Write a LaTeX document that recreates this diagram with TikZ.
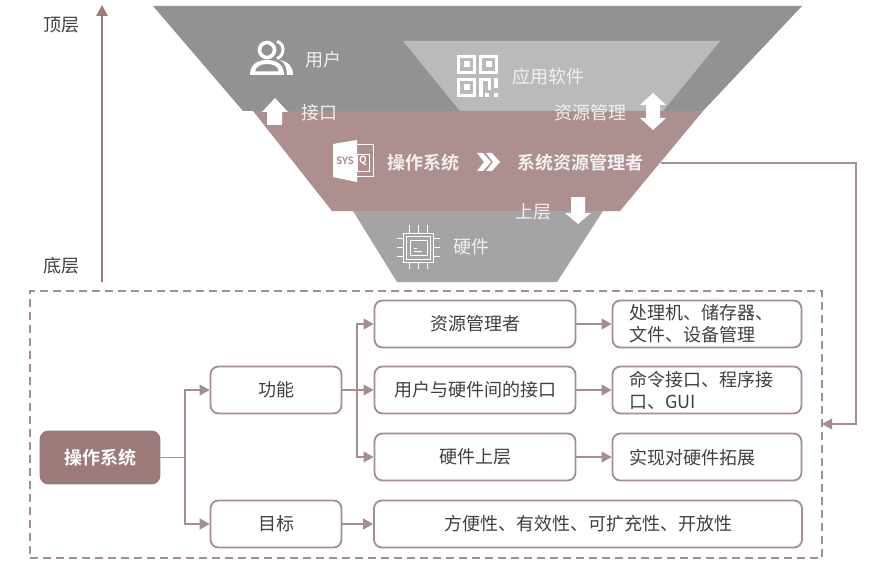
\documentclass[tikz,border=0pt]{standalone}
\usepackage{fontspec}
\setmainfont{Noto Sans CJK SC}[BoldFont={Noto Sans CJK SC Bold}]
\usetikzlibrary{arrows.meta}
\definecolor{rosedark}{HTML}{9C7A7A}
\definecolor{roseline}{HTML}{A58E8E}
\definecolor{roseband}{HTML}{AD8F8F}
\definecolor{grayband}{HTML}{919391}
\definecolor{graylight}{HTML}{B9BABA}
\definecolor{graylow}{HTML}{A4A4A4}
\definecolor{inktext}{HTML}{404040}
\definecolor{softwhite}{HTML}{F2F0F0}
\newcommand{\lowtxt}[1]{\raisebox{-1pt}{#1}}
\tikzset{
  txt/.style={font=\fontsize{18}{22}\selectfont, text=softwhite, inner sep=0pt},
  txtb/.style={font=\fontsize{18}{22}\selectfont\bfseries, text=softwhite, inner sep=0pt},
  side/.style={font=\fontsize{18}{22}\selectfont, text=inktext, inner sep=0pt},
  boxbase/.style={draw=roseline, line width=1.8pt, rounded corners=8pt, fill=white, font=\fontsize{18}{22}\selectfont, text=inktext, inner sep=0pt, align=center},
  smallbox/.style={boxbase, minimum width=131pt, minimum height=47pt},
  midbox/.style={boxbase, minimum width=201pt, minimum height=47pt},
  rightbox/.style={boxbase, minimum width=189pt, minimum height=47pt, align=left},
  link/.style={draw=roseline, line width=1.1pt, -{Triangle[length=10pt,width=11pt,fill=roseline]}},
  linkplain/.style={draw=roseline, line width=1.1pt},
}
\begin{document}
\begin{tikzpicture}[x=1pt,y=-1pt]
\useasboundingbox (0,0) rectangle (880,564);
\fill[white] (0,0) rectangle (880,564);
% pyramid bands
\fill[grayband] (153,6) -- (802,6) -- (703,111) -- (243,111) -- cycle;
\fill[graylight] (403,41) -- (720,41) -- (663,111) -- (460,111) -- cycle;
\fill[roseband] (253,111) -- (703,111) -- (620,211) -- (332,211) -- cycle;
\fill[graylow] (353,211) -- (603,211) -- (557,282) -- (397,282) -- cycle;
% axis
\coordinate (axisbot) at (102,282);
\coordinate (axistop) at (102,5);
\draw[draw=rosedark, line width=2.6pt, -{Triangle[length=11pt,width=11pt]}] (axisbot) -- (axistop);
\node[side] (top) at (61,25) {顶层};
\node[side] (bottom) at (61,266) {底层};
% user icon
\draw[white, line width=3.6pt] (267,50) circle (7.5pt);
\draw[white, line width=3pt] (277,41.5) .. controls (285,43) and (285,56) .. (277,58.5);
\fill[white, even odd rule] (250,75) .. controls (250,64) and (258,60) .. (267,60) .. controls (276,60) and (284,64) .. (284,75) -- cycle
  (255,71.5) .. controls (256,66) and (261,64) .. (267,64) .. controls (273,64) and (278,66) .. (279,71.5) -- cycle;
\fill[white] (280,60) .. controls (289,62) and (293,67) .. (293,75) -- (287,75) .. controls (287,68) and (285,63) .. (280,60) -- cycle;
\node[txt] (user) at (323,60) {用户};
% QR icon
\foreach \qx/\qy in {457/55,479/55,457/78}{
  \draw[white, line width=3pt] (\qx+1.5,\qy+1.5) rectangle (\qx+17.5,\qy+17.5);
  \fill[white] (\qx+6.5,\qy+6.5) rectangle (\qx+12.5,\qy+12.5);
}
\fill[white] (479,78) rectangle (482.5,97);
\fill[white] (482,78) rectangle (491,81);
\fill[white] (487.5,78) rectangle (491,90);
\fill[white] (494,78) rectangle (498,88);
\fill[white] (485,93) rectangle (488.5,97);
\fill[white] (494,93) rectangle (498,97);
\node[txt] (app) at (548,77) {应用软件};
% white arrows
\fill[white] (275,98) -- (288,112) -- (282,112) -- (282,125) -- (267,125) -- (267,112) -- (262,112) -- cycle;
\node[txt] (iface) at (319,113) {接口};
\node[txt] (resmg) at (590,113) {资源管理};
\fill[white] (653,93) -- (666,105) -- (660,105) -- (660,118) -- (666,118) -- (653,130) -- (640,118) -- (646,118) -- (646,105) -- (640,105) -- cycle;
% SYS icon
\draw[white, line width=1pt] (357,145) -- (373,145) -- (373,177) -- (357,177);
\draw[white, line width=1pt] (357,155) rectangle (369,172);
\fill[white] (333,144) -- (357,140) -- (357,182) -- (333,177) -- cycle;
\node[inner sep=0pt, text=roseband, font=\fontsize{10}{10}\selectfont\bfseries] (sys) at (345,161) {SYS};
\node[inner sep=0pt, text=white, font=\fontsize{10}{10}\selectfont\bfseries] (sysq) at (363,161) {Q};
% middle band text
\node[txtb] (os) at (423,163) {操作系统};
\fill[white] (477,153) -- (483,153) -- (491,162) -- (483,171) -- (477,171) -- (484,162) -- cycle;
\fill[white] (486,153) -- (492,153) -- (500,162) -- (492,171) -- (486,171) -- (493,162) -- cycle;
\node[txtb, inner xsep=18pt] (sysres) at (580,163) {系统资源管理者};
\node[txt] (upper) at (533,212) {上层};
\fill[white] (571,197) -- (585,197) -- (585,213) -- (591,213) -- (578,224) -- (565,213) -- (571,213) -- cycle;
% chip icon
\draw[white, line width=1pt] (403,233) rectangle (433,262);
\draw[white, line width=1pt] (406,236) rectangle (430,259);
\draw[white, line width=1pt] (410,240) rectangle (427,255);
\draw[white, line width=1pt] (414,248) -- (417,248) (414,251) -- (422,251);
\foreach \px in {409,418,427}{
  \draw[white, line width=1pt] (\px,225) -- (\px,233) (\px,262) -- (\px,269);
}
\foreach \py in {238,247,256}{
  \draw[white, line width=1pt] (397,\py) -- (403,\py) (433,\py) -- (440,\py);
}
\node[txt] (hw) at (471,247) {硬件};
% dashed frame
\node[draw=roseline, line width=1.5pt, dash pattern=on 8pt off 5pt, minimum width=792pt, minimum height=267pt, inner sep=0pt] (frame) at (426,424.5) {};
% tree nodes
\node[boxbase, fill=rosedark, draw=rosedark, text=white, minimum width=119pt, minimum height=52pt, font=\fontsize{18}{22}\selectfont\bfseries] (main) at (100,457.5) {操作系统};
\node[smallbox] (func) at (276,390) {\lowtxt{功能}};
\node[smallbox] (goal) at (276,524) {\lowtxt{目标}};
\node[midbox] (res) at (475,324) {\lowtxt{资源管理者}};
\node[midbox] (ui) at (475,390) {\lowtxt{用户与硬件间的接口}};
\node[midbox] (up) at (475,457) {\lowtxt{硬件上层}};
\node[boxbase, minimum width=428pt, minimum height=47pt] (open) at (588,524) {\lowtxt{方便性、有效性、可扩充性、开放性}};
\node[rightbox] (r1) at (707,324) {};
\node[rightbox] (r2) at (707,390) {};
\node[rightbox] (r3) at (707,457) {};
\node[side, anchor=west, align=left] (r1t) at (629,324) {处理机、储存器、\\文件、设备管理};
\node[side, anchor=west, align=left] (r2t) at (629,390) {命令接口、程序接\\口、GUI};
\node[side, anchor=west, align=left] (r3t) at (629,458) {实现对硬件拓展};
% connectors
\draw[linkplain] (main.east) -- (185,457.5);
\draw[link] (185,457.5) |- (func.west);
\draw[link] (185,457.5) |- (goal.west);
\draw[link] (func.east) -- (ui.west);
\draw[link] (357,390) |- (res.west);
\draw[link] (357,390) |- (up.west);
\draw[link] (goal.east) -- (open.west);
\draw[link] (res.east) -- (r1.west);
\draw[link] (ui.east) -- (r2.west);
\draw[link] (up.east) -- (r3.west);
\coordinate (frameport) at (822,424);
\draw[link] (sysres.east) -- (856,163) |- (frameport);
\end{tikzpicture}
\end{document}
